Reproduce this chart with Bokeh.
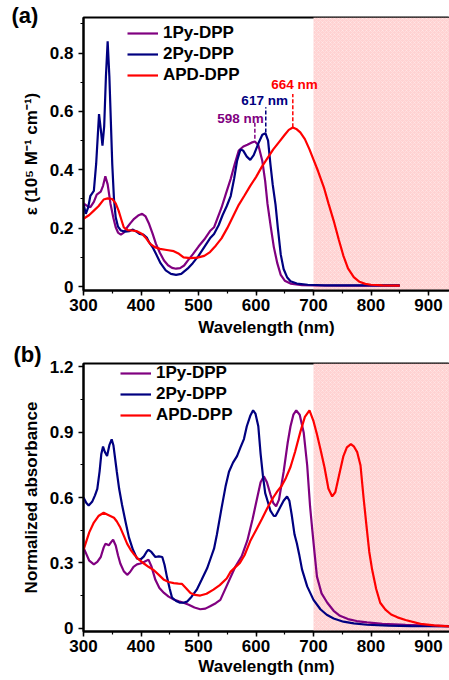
from bokeh.plotting import figure
from bokeh.models import (Range1d, SingleIntervalTicker, BoxAnnotation, Legend,
                          LegendItem, ColumnDataSource)
from bokeh.layouts import column
from bokeh.embed import file_html
from bokeh.resources import INLINE
from bokeh.core.properties import value

FONT = "Liberation Sans"
PURPLE = "#800080"
NAVY = "#000080"
RED = "#FF0000"

# ---------------- Panel (a): molar absorptivity ----------------
wl_1py_a = [300, 305, 312, 318, 323, 330, 334, 338, 342, 347, 352, 356, 360, 365, 370, 376, 382, 388,
            395, 402, 408, 414, 420, 426, 433, 440, 447, 454, 461, 468, 475, 481, 490, 500, 510, 520,
            527, 540, 548, 556, 563, 570, 578, 585, 592, 598, 604, 611, 616, 620, 626, 631, 637, 643,
            650, 660, 680, 700, 750, 800, 850]
eps_1py_a = [0.285, 0.278, 0.272, 0.29, 0.315, 0.325, 0.345, 0.378, 0.35, 0.283, 0.235, 0.203, 0.185,
             0.178, 0.185, 0.203, 0.218, 0.232, 0.243, 0.249, 0.24, 0.215, 0.182, 0.146, 0.115, 0.089,
             0.073, 0.064, 0.061, 0.063, 0.072, 0.088, 0.11, 0.137, 0.161, 0.19, 0.203, 0.27, 0.32,
             0.369, 0.42, 0.466, 0.48, 0.486, 0.493, 0.497, 0.485, 0.43, 0.36, 0.283, 0.2, 0.135, 0.08,
             0.04, 0.02, 0.01, 0.005, 0.004, 0.003, 0.003, 0.003]

wl_2py_a = [300, 304, 308, 312, 318, 322, 327, 330, 333, 336, 339, 342, 345, 350, 353, 356, 360, 365,
            372, 380, 386, 392, 398, 404, 410, 414, 420, 426, 434, 443, 452, 461, 470, 481, 490, 500,
            510, 520, 527, 535, 542, 549, 556, 562, 567, 573, 578, 584, 590, 596, 604, 611, 616.5, 621,
            625, 629, 634, 638, 643, 648, 654, 660, 671, 690, 720, 800, 850]
eps_2py_a = [0.283, 0.249, 0.27, 0.311, 0.328, 0.42, 0.591, 0.54, 0.483, 0.55, 0.72, 0.84, 0.72, 0.42,
             0.3, 0.237, 0.205, 0.192, 0.188, 0.19, 0.195, 0.188, 0.18, 0.178, 0.168, 0.152, 0.135,
             0.112, 0.08, 0.055, 0.043, 0.04, 0.043, 0.061, 0.08, 0.105, 0.135, 0.165, 0.18, 0.21,
             0.245, 0.275, 0.31, 0.37, 0.43, 0.47, 0.465, 0.445, 0.434, 0.45, 0.49, 0.52, 0.525, 0.5,
             0.42, 0.35, 0.28, 0.2, 0.11, 0.06, 0.032, 0.018, 0.01, 0.006, 0.004, 0.004, 0.004]

wl_apd_a = [300, 310, 318, 326, 335, 342, 350, 356, 361, 366, 370, 377, 384, 392, 402, 409, 416, 424,
            433, 445, 457, 466, 474, 486, 498, 510, 520, 530, 540, 550, 560, 570, 580, 590, 600, 610,
            620, 630, 640, 650, 657, 664, 670, 677, 685, 693, 700, 708, 718, 726, 735, 744, 752, 760,
            770, 780, 790, 800, 820, 850]
eps_apd_a = [0.232, 0.245, 0.26, 0.275, 0.298, 0.302, 0.3, 0.285, 0.26, 0.228, 0.203, 0.193, 0.192,
             0.19, 0.18, 0.165, 0.146, 0.135, 0.129, 0.125, 0.121, 0.112, 0.1, 0.097, 0.099, 0.105,
             0.118, 0.14, 0.165, 0.2, 0.24, 0.28, 0.312, 0.345, 0.375, 0.41, 0.44, 0.47, 0.495, 0.52,
             0.537, 0.545, 0.54, 0.528, 0.505, 0.47, 0.435, 0.395, 0.34, 0.285, 0.226, 0.16, 0.105,
             0.062, 0.032, 0.016, 0.009, 0.006, 0.004, 0.003]

peak_wl = [598, 617, 664]
peak_base = [0.506, 0.528, 0.546]
peak_top = [0.568, 0.614, 0.66]
peak_text = ["598 nm", "617 nm", "664 nm"]
peak_text_x = [573, 615, 667]
peak_text_y = [0.575, 0.637, 0.692]
peak_colors = [PURPLE, NAVY, RED]

# ---------------- Panel (b): normalized absorbance ----------------
wl_1py_b = [300, 305, 310, 318, 324, 330, 335, 338, 341, 344, 348, 351.5, 356, 360, 364, 370, 376, 381,
            387, 393, 399, 406, 413, 418, 425, 432, 440, 448, 457, 466, 474, 483, 493, 503, 512, 521,
            530, 538, 550, 564, 575, 585, 594, 602, 608, 613.6, 619, 625, 630, 635, 640, 648, 655, 660,
            665, 670, 676, 683, 689, 694, 698, 702, 706, 714, 724, 735, 746, 760, 775, 793, 820, 860,
            900, 940]
abs_1py_b = [0.37, 0.34, 0.31, 0.293, 0.305, 0.327, 0.37, 0.387, 0.385, 0.38, 0.395, 0.406, 0.38, 0.335,
             0.297, 0.262, 0.245, 0.258, 0.282, 0.293, 0.297, 0.305, 0.315, 0.285, 0.222, 0.185, 0.162,
             0.145, 0.132, 0.124, 0.117, 0.108, 0.095, 0.087, 0.09, 0.102, 0.115, 0.13, 0.2, 0.282,
             0.33, 0.403, 0.5, 0.598, 0.67, 0.697, 0.67, 0.615, 0.575, 0.56, 0.59, 0.717, 0.85, 0.927,
             0.98, 1.0, 0.98, 0.897, 0.748, 0.56, 0.448, 0.34, 0.237, 0.16, 0.117, 0.08, 0.057, 0.042,
             0.033, 0.027, 0.02, 0.015, 0.012, 0.01]

wl_2py_b = [300, 305, 309, 315, 320, 324, 328, 331, 334, 337, 341, 345, 349, 352, 358, 362, 367, 373,
            379, 386, 393, 399, 405, 410, 413, 418, 425, 431, 437, 441, 445, 450, 454, 461, 468, 474,
            480, 488, 497, 505, 515, 521, 527, 532, 540, 547, 553, 560, 567, 573, 579, 584, 590, 595,
            599, 604, 608, 612, 616, 620, 625, 631, 634, 638, 642, 648, 654, 658, 662, 667, 671, 675,
            680, 689, 700, 712, 723, 735, 752, 770, 793, 830, 870, 900, 940]
abs_2py_b = [0.6, 0.575, 0.563, 0.58, 0.61, 0.64, 0.72, 0.8, 0.834, 0.81, 0.79, 0.84, 0.867, 0.84,
             0.717, 0.64, 0.567, 0.49, 0.417, 0.36, 0.32, 0.315, 0.33, 0.352, 0.36, 0.35, 0.327, 0.33,
             0.327, 0.29, 0.237, 0.18, 0.14, 0.125, 0.117, 0.117, 0.122, 0.145, 0.177, 0.22, 0.275,
             0.32, 0.365, 0.43, 0.55, 0.65, 0.718, 0.76, 0.79, 0.83, 0.868, 0.927, 0.975, 1.0, 0.985,
             0.927, 0.8, 0.7, 0.62, 0.585, 0.54, 0.515, 0.515, 0.535, 0.555, 0.585, 0.605, 0.585,
             0.522, 0.43, 0.39, 0.34, 0.27, 0.192, 0.13, 0.087, 0.062, 0.045, 0.03, 0.022, 0.016,
             0.012, 0.01, 0.009, 0.008]

wl_apd_b = [300, 305, 310, 318, 326, 335, 343, 353, 358, 364, 370, 376, 382, 387, 395, 405, 413, 422,
            431, 440, 448, 457, 465, 471, 478, 486, 494, 503, 514, 526, 537, 549, 556, 572, 580, 590,
            600, 610, 620, 630, 637, 645, 652, 660, 668, 677, 685, 693, 700, 706, 712, 719, 726, 732.5,
            738, 746, 752, 758, 765, 770, 776, 781.7, 787, 793, 797, 802, 809, 816, 825, 835, 846, 860,
            886, 910, 940]
abs_apd_b = [0.36, 0.4, 0.44, 0.485, 0.515, 0.53, 0.52, 0.507, 0.49, 0.462, 0.425, 0.387, 0.36, 0.342,
             0.318, 0.297, 0.282, 0.267, 0.245, 0.222, 0.212, 0.207, 0.205, 0.204, 0.185, 0.162,
             0.153, 0.15, 0.158, 0.177, 0.198, 0.228, 0.26, 0.3, 0.335, 0.4, 0.45, 0.5, 0.553, 0.6,
             0.628, 0.655, 0.69, 0.74, 0.81, 0.9, 0.97, 1.0, 0.95, 0.89, 0.823, 0.74, 0.64, 0.605,
             0.625, 0.72, 0.79, 0.83, 0.845, 0.835, 0.808, 0.748, 0.6, 0.448, 0.35, 0.268, 0.18,
             0.117, 0.085, 0.063, 0.05, 0.038, 0.02, 0.013, 0.008]

series_names = ["1Py-DPP", "2Py-DPP", "APD-DPP"]
series_colors = [PURPLE, NAVY, RED]

x_ticks_interval = 100
nir_start = 700


def style_axes(p, y_interval, panel_label, pad, title_offset, xlabel_standoff):
    p.xaxis.ticker = SingleIntervalTicker(interval=x_ticks_interval, num_minor_ticks=2)
    p.yaxis.ticker = SingleIntervalTicker(interval=y_interval, num_minor_ticks=2)
    for ax in (p.xaxis[0], p.yaxis[0]):
        ax.axis_line_width = 2
        ax.axis_line_color = "black"
        ax.major_tick_line_width = 1.5
        ax.minor_tick_line_width = 1.2
        ax.major_tick_out = 5
        ax.major_tick_in = 0
        ax.minor_tick_out = 3
        ax.minor_tick_in = 0
        ax.major_label_text_font = FONT
        ax.major_label_text_font_style = "bold"
        ax.major_label_text_font_size = "17px"
        ax.major_label_text_color = "black"
        ax.axis_label_text_font = FONT
        ax.axis_label_text_font_style = "bold"
        ax.axis_label_text_font_size = "17px"
        ax.axis_label_text_color = "black"
    p.xaxis.major_label_standoff = 3
    p.xaxis.axis_label_standoff = xlabel_standoff
    p.yaxis.major_label_standoff = 5
    p.yaxis.axis_label_standoff = 6
    p.xgrid.visible = False
    p.ygrid.visible = False
    p.outline_line_color = "black"
    p.outline_line_width = 2
    p.background_fill_color = "white"
    p.border_fill_color = "white"
    shade = BoxAnnotation(left=nir_start, fill_color="#ffd2d2", fill_alpha=1.0,
                          hatch_pattern="diagonal_cross", hatch_color="white",
                          hatch_alpha=0.45, hatch_scale=4, hatch_weight=0.6,
                          line_alpha=0, level="underlay")
    p.add_layout(shade)
    # panel letter as the (left-shifted) title
    p.title.text = panel_label
    p.title.align = "left"
    p.title.vertical_align = "top"
    p.title.padding = pad
    p.title.offset = title_offset
    p.title.standoff = -45
    p.title.text_font = FONT
    p.title.text_font_style = "bold"
    p.title.text_font_size = "22px"
    p.title.text_color = "black"


def add_lines(p, xs_list, ys_list, legend_x, legend_y):
    items = []
    for xs, ys, name, col in zip(xs_list, ys_list, series_names, series_colors):
        r = p.line(xs, ys, line_color=col, line_width=2.2)
        items.append(LegendItem(label=name, renderers=[r]))
    leg = Legend(items=items, location=(legend_x, legend_y), orientation="vertical",
                 label_text_font=FONT, label_text_font_style="bold", label_text_font_size="17px",
                 label_text_color="black", glyph_width=31, glyph_height=20, label_height=20,
                 label_standoff=5, spacing=1, padding=0, margin=0,
                 border_line_alpha=0, background_fill_alpha=0)
    p.add_layout(leg, "center")


# Panel (a)
pa = figure(frame_width=366, frame_height=273, output_backend="svg", toolbar_location=None,
            x_range=Range1d(300, 936.5), y_range=Range1d(-0.0137, 0.922),
            min_border_left=83, min_border_right=0, min_border_top=17, min_border_bottom=50,
            x_axis_label="Wavelength (nm)", y_axis_label="ε (10⁵ M⁻¹ cm⁻¹)")
style_axes(pa, 0.2, "(a)", 10, -82, 4)
add_lines(pa, [wl_1py_a, wl_2py_a, wl_apd_a], [eps_1py_a, eps_2py_a, eps_apd_a], 44, 205)

src_peaks = ColumnDataSource(dict(x=peak_wl, y0=peak_base, y1=peak_top, tx=peak_text_x,
                                  ty=peak_text_y, t=peak_text, c=peak_colors))
pa.segment(x0="x", y0="y0", x1="x", y1="y1", line_color="c", line_width=1.5,
           line_dash="4 2", source=src_peaks)
pa.text(x="tx", y="ty", text="t", text_color="c", text_font=value(FONT), text_font_style="bold",
        text_font_size="13.5px", text_align="center", text_baseline="middle", source=src_peaks)

# Panel (b)
pb = figure(frame_width=366, frame_height=268, output_backend="svg", toolbar_location=None,
            x_range=Range1d(300, 936.5), y_range=Range1d(-0.015, 1.215),
            min_border_left=83, min_border_right=0, min_border_top=23, min_border_bottom=49,
            x_axis_label="Wavelength (nm)", y_axis_label="Normalized absorbance")
style_axes(pb, 0.3, "(b)", 17, -87, 2)
add_lines(pb, [wl_1py_b, wl_2py_b, wl_apd_b], [abs_1py_b, abs_2py_b, abs_apd_b], 37, 206)

layout = column(pa, pb, spacing=0)
open("out.html", "w").write(file_html(layout, INLINE))
